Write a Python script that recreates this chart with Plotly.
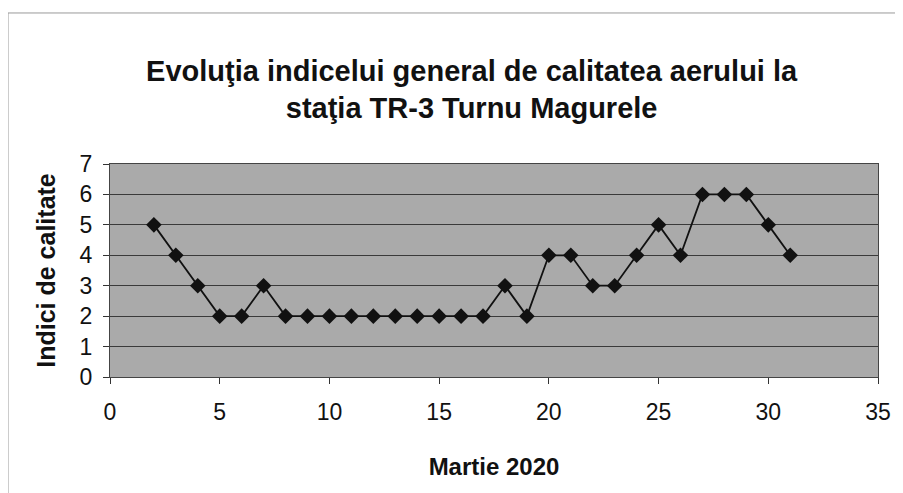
import plotly.graph_objects as go

days = [2, 3, 4, 5, 6, 7, 8, 9, 10, 11, 12, 13, 14, 15, 16, 17, 18, 19, 20,
        21, 22, 23, 24, 25, 26, 27, 28, 29, 30, 31]
index_values = [5, 4, 3, 2, 2, 3, 2, 2, 2, 2, 2, 2, 2, 2, 2, 2, 3, 2, 4,
                4, 3, 3, 4, 5, 4, 6, 6, 6, 5, 4]
x_ticks = [0, 5, 10, 15, 20, 25, 30, 35]
y_ticks = [0, 1, 2, 3, 4, 5, 6, 7]

title_text = "Evoluţia indicelui general de calitatea aerului la<br>staţia TR-3 Turnu Magurele"

fig = go.Figure()
fig.add_trace(go.Scatter(
    x=days, y=index_values, mode="lines+markers",
    line=dict(color="#111111", width=1.8),
    marker=dict(symbol="diamond", size=12, color="#111111"),
    showlegend=False,
))

fig.update_layout(
    width=895, height=485,
    margin=dict(l=102, r=25, t=156, b=116),
    paper_bgcolor="white",
    plot_bgcolor="#aaaaaa",
    font=dict(family="Liberation Sans, Arial", color="#111111"),
    title=dict(text="<b>" + title_text + "</b>", x=0.518, xanchor="center",
               y=0.85, yanchor="middle",
               font=dict(size=29, family="Liberation Sans, Arial", color="#111111")),
    xaxis=dict(range=[0, 35], tickvals=x_ticks, ticks="outside", ticklen=6,
               tickcolor="#333", showgrid=False, zeroline=False,
               showline=True, linecolor="#444", mirror=True,
               tickfont=dict(size=23), ticklabelstandoff=8,
               title=dict(text="<b>Martie 2020</b>", font=dict(size=24), standoff=34)),
    yaxis=dict(range=[0, 7], tickvals=y_ticks, ticks="outside", ticklen=6,
               tickcolor="#333", showgrid=True, gridcolor="#3a3a3a", gridwidth=1,
               zeroline=False, showline=True, linecolor="#444", mirror=True,
               tickfont=dict(size=23), ticklabelstandoff=6,
               title=dict(text="<b>Indici de calitate</b>", font=dict(size=25), standoff=16)),
)

fig.add_shape(type="rect", xref="paper", yref="paper",
              x0=-0.1328, x1=1.1, y0=-0.6, y1=1.709,
              line=dict(color="#999999", width=1), fillcolor="rgba(0,0,0,0)")

fig.write_html("out.html")
